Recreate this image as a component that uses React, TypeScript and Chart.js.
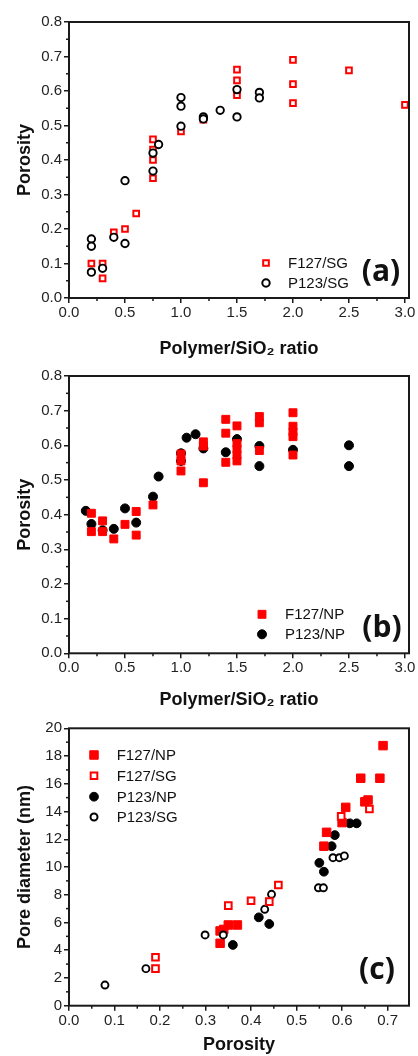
import React, { useEffect, useRef } from 'react';
import { Chart, registerables } from 'chart.js';
Chart.register(...registerables);

// ---------- Panel (a): Porosity vs Polymer/SiO2 ratio (SG) ----------
const aF127SG_x = [0.2, 0.3, 0.3, 0.4, 0.5, 0.6, 0.75, 0.75, 0.75, 0.75, 1.0, 1.2, 1.5, 1.5, 1.5, 1.5, 2.0, 2.0, 2.0, 2.5, 3.0];
const aF127SG_y = [0.10, 0.10, 0.057, 0.19, 0.20, 0.245, 0.46, 0.43, 0.40, 0.347, 0.483, 0.517, 0.662, 0.631, 0.602, 0.588, 0.69, 0.62, 0.565, 0.66, 0.56];
const aP123SG_x = [0.2, 0.2, 0.2, 0.3, 0.4, 0.5, 0.5, 0.75, 0.75, 0.8, 1.0, 1.0, 1.0, 1.2, 1.2, 1.35, 1.5, 1.5, 1.7, 1.7];
const aP123SG_y = [0.171, 0.15, 0.075, 0.086, 0.176, 0.158, 0.34, 0.42, 0.368, 0.445, 0.581, 0.556, 0.498, 0.525, 0.519, 0.544, 0.604, 0.525, 0.596, 0.58];

// ---------- Panel (b): Porosity vs Polymer/SiO2 ratio (NP) ----------
const bF127NP_x = [0.2, 0.2, 0.3, 0.3, 0.4, 0.5, 0.6, 0.6, 0.75, 1.0, 1.0, 1.0, 1.2, 1.2, 1.2, 1.4, 1.4, 1.4, 1.5, 1.5, 1.5, 1.5, 1.5, 1.7, 1.7, 1.7, 2.0, 2.0, 2.0, 2.0, 2.0];
const bF127NP_y = [0.404, 0.351, 0.382, 0.351, 0.33, 0.372, 0.409, 0.341, 0.428, 0.575, 0.555, 0.526, 0.61, 0.598, 0.492, 0.675, 0.635, 0.551, 0.656, 0.605, 0.59, 0.572, 0.555, 0.683, 0.665, 0.585, 0.694, 0.655, 0.638, 0.625, 0.572];
const bP123NP_x = [0.15, 0.2, 0.3, 0.4, 0.5, 0.6, 0.75, 0.8, 1.0, 1.0, 1.05, 1.13, 1.2, 1.4, 1.5, 1.7, 1.7, 2.0, 2.5, 2.5];
const bP123NP_y = [0.411, 0.373, 0.355, 0.359, 0.418, 0.377, 0.452, 0.51, 0.577, 0.555, 0.622, 0.632, 0.591, 0.58, 0.618, 0.598, 0.54, 0.587, 0.6, 0.54];

// ---------- Panel (c): Pore diameter vs Porosity ----------
const cF127NP_x = [0.69, 0.641, 0.683, 0.65, 0.657, 0.608, 0.6, 0.566, 0.56, 0.332, 0.34, 0.35, 0.37, 0.332];
const cF127NP_y = [18.75, 16.4, 16.4, 14.7, 14.83, 14.3, 13.2, 12.5, 11.5, 5.39, 5.5, 5.82, 5.82, 4.5];
const cF127SG_x = [0.598, 0.66, 0.46, 0.44, 0.40, 0.35, 0.19, 0.19];
const cF127SG_y = [13.65, 14.18, 8.7, 7.5, 7.57, 7.21, 3.49, 2.67];
const cP123NP_x = [0.617, 0.632, 0.584, 0.577, 0.55, 0.56, 0.417, 0.44, 0.36];
const cP123NP_y = [13.15, 13.15, 12.3, 11.5, 10.3, 9.66, 6.37, 5.89, 4.38];
const cP123SG_x = [0.58, 0.594, 0.605, 0.548, 0.559, 0.445, 0.43, 0.339, 0.299, 0.169, 0.079];
const cP123SG_y = [10.67, 10.67, 10.8, 8.5, 8.5, 8.03, 6.95, 5.1, 5.1, 2.67, 1.49];

// ---------- Ticks ----------
const ratioTicks = [0, 0.5, 1.0, 1.5, 2.0, 2.5, 3.0];
const ratioMinor = [0.25, 0.75, 1.25, 1.75, 2.25, 2.75];
const porosityTicks = [0, 0.1, 0.2, 0.3, 0.4, 0.5, 0.6, 0.7, 0.8];
const porosityMinor = [0.05, 0.15, 0.25, 0.35, 0.45, 0.55, 0.65, 0.75];
const porosityXTicks = [0, 0.1, 0.2, 0.3, 0.4, 0.5, 0.6, 0.7];
const porosityXMinor = [0.05, 0.15, 0.25, 0.35, 0.45, 0.55, 0.65];
const diameterTicks = [0, 2, 4, 6, 8, 10, 12, 14, 16, 18, 20];
const diameterMinor = [1, 3, 5, 7, 9, 11, 13, 15, 17, 19];

const RED = '#ff0000';
const BLACK = '#000000';
const AXIS = '#1a1a1a';
const FONT = "'Liberation Sans', Arial, sans-serif";

const zip = (xs: number[], ys: number[]) => xs.map((x, i) => ({ x, y: ys[i] }));

type LegendItem = { label: string; style: 'rect' | 'circle'; filled: boolean; color: string; r: number };

const decorPlugin = {
  id: 'decor',
  afterDraw(chart: any, _args: any, opts: any) {
    const { ctx, chartArea: ca, scales } = chart;
    const xs = scales.x;
    const ys = scales.y;
    ctx.save();
    ctx.strokeStyle = AXIS;
    ctx.lineWidth = 1.5;
    (opts.xMinor || []).forEach((v: number) => {
      const px = xs.getPixelForValue(v);
      ctx.beginPath();
      ctx.moveTo(px, ca.bottom);
      ctx.lineTo(px, ca.bottom + 3);
      ctx.stroke();
    });
    (opts.yMinor || []).forEach((v: number) => {
      const py = ys.getPixelForValue(v);
      ctx.beginPath();
      ctx.moveTo(ca.left, py);
      ctx.lineTo(ca.left - 3, py);
      ctx.stroke();
    });
    ctx.lineWidth = 2;
    ctx.strokeRect(ca.left, ca.top, ca.right - ca.left, ca.bottom - ca.top);

    // legend
    const lg = opts.legend;
    if (lg) {
      const baseX = lg.anchor === 'left' ? ca.left : ca.right;
      const baseY = lg.vAnchor === 'top' ? ca.top : ca.bottom;
      lg.items.forEach((it: LegendItem, i: number) => {
        const mx = baseX + lg.markerDx;
        const my = baseY + lg.rowDy[i];
        ctx.beginPath();
        if (it.style === 'rect') {
          const s = Math.SQRT1_2 * it.r;
          ctx.rect(mx - s, my - s, 2 * s, 2 * s);
        } else {
          ctx.arc(mx, my, it.r, 0, Math.PI * 2);
        }
        if (it.filled) {
          ctx.fillStyle = it.color;
          ctx.fill();
          ctx.lineWidth = 1;
          ctx.strokeStyle = it.color;
          ctx.stroke();
        } else {
          ctx.fillStyle = '#ffffff';
          ctx.fill();
          ctx.lineWidth = 2;
          ctx.strokeStyle = it.color;
          ctx.stroke();
        }
        ctx.fillStyle = '#111';
        ctx.font = `15px ${FONT}`;
        ctx.textAlign = 'left';
        ctx.textBaseline = 'middle';
        ctx.fillText(it.label, baseX + lg.textDx, my + 1);
      });
    }
    // panel label
    if (opts.tag) {
      ctx.fillStyle = '#111';
      ctx.font = "bold 30px 'Open Sans', sans-serif";
      ctx.textAlign = 'center';
      ctx.textBaseline = 'middle';
      ctx.fillText(opts.tag.text, ca.right + opts.tag.dx, ca.bottom + opts.tag.dy);
    }
    ctx.restore();
  },
};

type PanelProps = {
  top: number;
  height: number;
  padTop: number;
  xAxisH: number;
  xTitle: string;
  yTitle: string;
  xTitlePad: number;
  xMax: number;
  yMax: number;
  xTicks: number[];
  yTicks: number[];
  xMinor: number[];
  yMinor: number[];
  yFmt: (v: number) => string;
  datasets: any[];
  legend: any;
  tag: any;
};

function Panel(p: PanelProps) {
  const ref = useRef<HTMLCanvasElement | null>(null);
  useEffect(() => {
    if (!ref.current) return;
    const tickFont = { family: FONT, size: 15 };
    const titleFont = { family: FONT, size: 18, weight: 'bold' as const };
    const chart = new Chart(ref.current, {
      type: 'scatter',
      data: { datasets: p.datasets },
      plugins: [decorPlugin],
      options: {
        responsive: false,
        animation: false,
        events: [],
        layout: { padding: { top: p.padTop, right: 9, left: 0, bottom: 0 }, autoPadding: false },
        plugins: {
          legend: { display: false },
          tooltip: { enabled: false },
          decor: { xMinor: p.xMinor, yMinor: p.yMinor, legend: p.legend, tag: p.tag },
        } as any,
        scales: {
          x: {
            type: 'linear',
            min: 0,
            max: p.xMax,
            afterBuildTicks: (s: any) => {
              s.ticks = p.xTicks.map((v) => ({ value: v }));
            },
            afterFit: (s: any) => {
              s.height = p.xAxisH;
              s.paddingLeft = 0;
              s.paddingRight = 0;
            },
            grid: { display: true, drawOnChartArea: false, drawTicks: true, tickLength: 5, color: AXIS, lineWidth: 1.5 },
            border: { display: false },
            ticks: {
              font: tickFont,
              color: '#222',
              padding: 1,
              maxRotation: 0,
              autoSkip: false,
              callback: (v: any) => Number(v).toFixed(1),
            },
            title: { display: true, text: p.xTitle, font: titleFont, color: '#111', padding: { top: 0, bottom: p.xTitlePad } },
          },
          y: {
            type: 'linear',
            min: 0,
            max: p.yMax,
            afterBuildTicks: (s: any) => {
              s.ticks = p.yTicks.map((v) => ({ value: v }));
            },
            afterFit: (s: any) => {
              s.width = 69;
              s.paddingTop = 0;
              s.paddingBottom = 0;
            },
            grid: { display: true, drawOnChartArea: false, drawTicks: true, tickLength: 5, color: AXIS, lineWidth: 1.5 },
            border: { display: false },
            ticks: {
              font: tickFont,
              color: '#222',
              padding: 2,
              autoSkip: false,
              callback: (v: any) => p.yFmt(Number(v)),
            },
            title: { display: true, text: p.yTitle, font: titleFont, color: '#111', padding: { top: 14, bottom: 0 } },
          },
        },
      } as any,
    });
    return () => chart.destroy();
  }, []);
  return (
    <canvas
      ref={ref}
      width={418}
      height={p.height}
      style={{ position: 'absolute', left: 0, top: p.top, width: 418, height: p.height }}
    />
  );
}

const openSq = (label: string, data: any[], r: number, order: number) => ({
  label, data, order, pointStyle: 'rect', pointRadius: r, pointBorderWidth: 2,
  borderColor: RED, backgroundColor: '#ffffff', clip: false,
});
const openCi = (label: string, data: any[], r: number, order: number) => ({
  label, data, order, pointStyle: 'circle', pointRadius: r, pointBorderWidth: 1.9,
  borderColor: BLACK, backgroundColor: '#ffffff', clip: false,
});
const fillSq = (label: string, data: any[], r: number, order: number) => ({
  label, data, order, pointStyle: 'rect', pointRadius: r, pointBorderWidth: 1,
  borderColor: RED, backgroundColor: RED, clip: false,
});
const fillCi = (label: string, data: any[], r: number, order: number) => ({
  label, data, order, pointStyle: 'circle', pointRadius: r, pointBorderWidth: 1,
  borderColor: BLACK, backgroundColor: BLACK, clip: false,
});

export default function App() {
  const fmt1 = (v: number) => v.toFixed(1);
  const fmt0 = (v: number) => String(Math.round(v));
  return (
    <div style={{ position: 'absolute', left: 0, top: 0, width: 418, height: 1056, overflow: 'hidden', background: '#fff' }}>
      <Panel
        top={0}
        height={360}
        padTop={22}
        xAxisH={62}
        xTitle="Polymer/SiO₂ ratio"
        yTitle="Porosity"
        xTitlePad={0.2}
        xMax={3.036}
        yMax={0.8}
        xTicks={ratioTicks}
        yTicks={porosityTicks}
        xMinor={ratioMinor}
        yMinor={porosityMinor}
        yFmt={fmt1}
        datasets={[
          openCi('P123/SG', zip(aP123SG_x, aP123SG_y), 3.7, 0),
          openSq('F127/SG', zip(aF127SG_x, aF127SG_y), 4, 1),
        ]}
        legend={{
          anchor: 'right', vAnchor: 'bottom', markerDx: -143, textDx: -121, rowDy: [-35, -15],
          items: [
            { label: 'F127/SG', style: 'rect', filled: false, color: RED, r: 4 },
            { label: 'P123/SG', style: 'circle', filled: false, color: BLACK, r: 3.7 },
          ],
        }}
        tag={{ text: '(a)', dx: -28, dy: -26 }}
      />
      <Panel
        top={360}
        height={352}
        padTop={16}
        xAxisH={58.7}
        xTitle="Polymer/SiO₂ ratio"
        yTitle="Porosity"
        xTitlePad={1.2}
        xMax={3.036}
        yMax={0.8}
        xTicks={ratioTicks}
        yTicks={porosityTicks}
        xMinor={ratioMinor}
        yMinor={porosityMinor}
        yFmt={fmt1}
        datasets={[
          fillSq('F127/NP', zip(bF127NP_x, bF127NP_y), 5.6, 0),
          fillCi('P123/NP', zip(bP123NP_x, bP123NP_y), 4.5, 1),
        ]}
        legend={{
          anchor: 'right', vAnchor: 'bottom', markerDx: -147, textDx: -124, rowDy: [-39, -19],
          items: [
            { label: 'F127/NP', style: 'rect', filled: true, color: RED, r: 5.6 },
            { label: 'P123/NP', style: 'circle', filled: true, color: BLACK, r: 4.5 },
          ],
        }}
        tag={{ text: '(b)', dx: -27, dy: -25 }}
      />
      <Panel
        top={712}
        height={344}
        padTop={16.3}
        xAxisH={50.3}
        xTitle="Porosity"
        yTitle="Pore diameter (nm)"
        xTitlePad={0.2}
        xMax={0.747}
        yMax={20}
        xTicks={porosityXTicks}
        yTicks={diameterTicks}
        xMinor={porosityXMinor}
        yMinor={diameterMinor}
        yFmt={fmt0}
        datasets={[
          openSq('F127/SG', zip(cF127SG_x, cF127SG_y), 4.7, 0),
          openCi('P123/SG', zip(cP123SG_x, cP123SG_y), 3.5, 1),
          fillSq('F127/NP', zip(cF127NP_x, cF127NP_y), 6, 2),
          fillCi('P123/NP', zip(cP123NP_x, cP123NP_y), 4.4, 3),
        ]}
        legend={{
          anchor: 'left', vAnchor: 'top', markerDx: 25, textDx: 47.7, rowDy: [26.7, 47.4, 68.4, 88.7],
          items: [
            { label: 'F127/NP', style: 'rect', filled: true, color: RED, r: 6 },
            { label: 'F127/SG', style: 'rect', filled: false, color: RED, r: 4.7 },
            { label: 'P123/NP', style: 'circle', filled: true, color: BLACK, r: 4.4 },
            { label: 'P123/SG', style: 'circle', filled: false, color: BLACK, r: 3.5 },
          ],
        }}
        tag={{ text: '(c)', dx: -32, dy: -35.7 }}
      />
    </div>
  );
}
